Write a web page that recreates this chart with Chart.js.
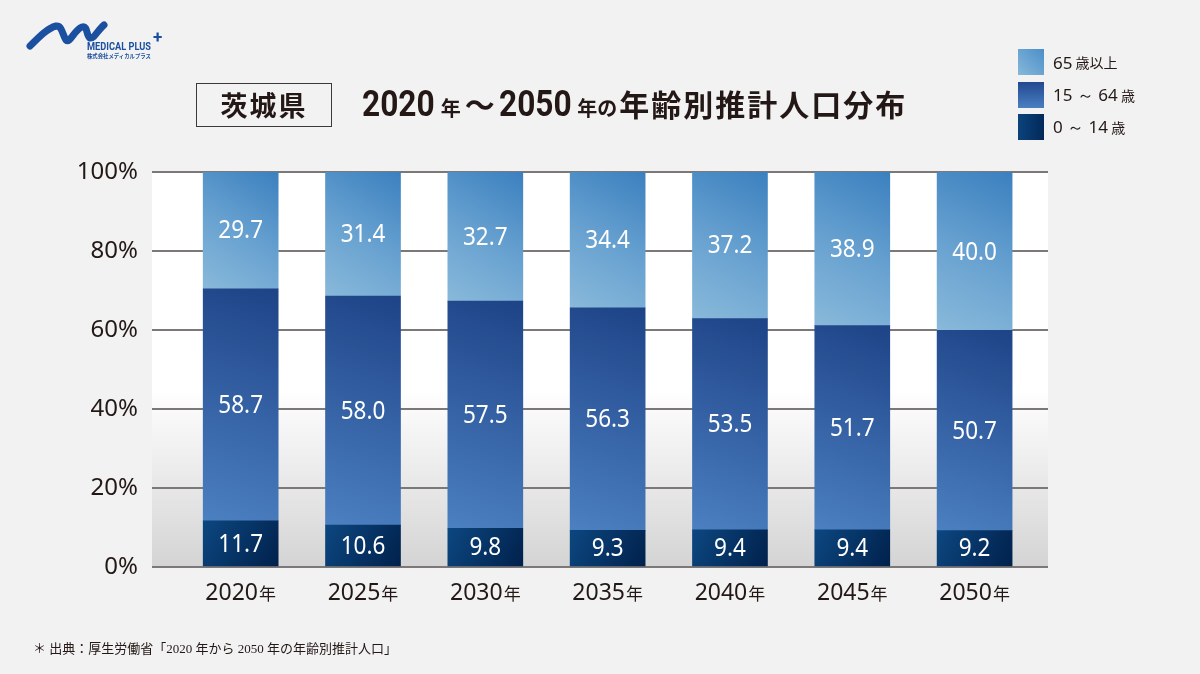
<!DOCTYPE html>
<html lang="ja">
<head>
<meta charset="utf-8">
<script src="https://cdn.jsdelivr.net/npm/chart.js@4.4.1/dist/chart.umd.min.js"></script>
<style>
  html, body { margin: 0; padding: 0; }
  body { width: 1200px; height: 674px; position: relative; overflow: hidden;
         background: #f2f2f2; font-family: "Noto Sans", "Noto Sans CJK JP", sans-serif; color: #231815; }
  #chart { position: absolute; left: 0; top: 0; }
  .abs { position: absolute; white-space: nowrap; }
  #tbox { left: 196px; top: 83px; width: 134px; height: 42px; border: 1.5px solid #3a3a3a;
          font-family: "Noto Sans CJK JP"; font-weight: 700; font-size: 27px; line-height: 42px;
          text-align: center; letter-spacing: 2px; color: #231815; }
  #title { left: 362px; top: 81px; display: flex; align-items: baseline; color: #231815; }
  #title .num { font-family: Roboto, "Noto Sans"; font-weight: 700; font-size: 36px; display: inline-block; transform: scaleX(0.88); transform-origin: left; margin-right: -8px; }
  #title .sm { font-family: "Noto Sans CJK JP"; font-weight: 700; font-size: 20px; }
  #title .big { font-family: "Noto Sans CJK JP"; font-weight: 700; font-size: 30px; letter-spacing: 2px; }
  .leg { left: 1018px; display: flex; align-items: center; height: 26px; }
  .leg .sw { width: 26px; height: 26px; margin-right: 9px; }
  .leg .n { font-family: "Noto Sans"; font-size: 17px; color: #231815; }
  .leg .k { font-family: "Noto Sans CJK JP"; font-size: 14px; color: #231815; }
  #foot { left: 33px; top: 638px; font-family: "Liberation Serif", "Noto Sans CJK JP", serif; font-size: 13px; color: #231815; }
</style>
</head>
<body>
<canvas id="chart" width="1200" height="674"></canvas>

<svg class="abs" style="left:0;top:0" width="200" height="70" viewBox="0 0 200 70">
  <path d="M30 46 C40 36 48 28 56 26 C62 25 62 34 66 40 C70 44 74 30 82 27 C88 25 86 36 90 38 C94 39 98 30 104 25"
        fill="none" stroke="#1b4f9f" stroke-width="7" stroke-linecap="round" stroke-linejoin="round"/>
  <text x="87" y="49.5" font-family="Roboto, 'Noto Sans'" font-weight="700" font-size="10.5" fill="#1b4f9f" textLength="64" lengthAdjust="spacingAndGlyphs">MEDICAL PLUS</text>
  <text x="153" y="43" font-family="Roboto, 'Noto Sans'" font-weight="700" font-size="17" fill="#1b4f9f">+</text>
  <text x="87" y="57.5" font-family="'Noto Sans CJK JP'" font-weight="700" font-size="6" fill="#1b4f9f" textLength="64" lengthAdjust="spacingAndGlyphs">株式会社メディカルプラス</text>
</svg>

<div id="tbox" class="abs">茨城県</div>
<div id="title" class="abs">
  <span class="num">2020</span><span class="sm" style="margin-left:4px">年</span>
  <span class="big" style="margin:0 2px 0 4px">～</span>
  <span class="num">2050</span><span class="sm" style="margin-left:4px">年の</span>
  <span class="big" style="margin-left:2px">年齢別推計人口分布</span>
</div>

<div class="abs leg" style="top:49px"><div class="sw" style="background:linear-gradient(45deg,#86b8da,#4c8fc8)"></div><span class="n">65</span><span class="k">&nbsp;歳以上</span></div>
<div class="abs leg" style="top:82px"><div class="sw" style="background:linear-gradient(0deg,#4a7fc1,#22498f)"></div><span class="n">15 ～ 64</span><span class="k">&nbsp;歳</span></div>
<div class="abs leg" style="top:114px"><div class="sw" style="background:linear-gradient(90deg,#0b437b,#03295a)"></div><span class="n">0 ～ 14</span><span class="k">&nbsp;歳</span></div>

<div id="foot" class="abs">＊ 出典：厚生労働省「2020 年から 2050 年の年齢別推計人口」</div>

<script>
// ---- data ----
const years = ['2020', '2025', '2030', '2035', '2040', '2045', '2050'];
const yearSuffix = '年';
const age0to14 = [11.7, 10.6, 9.8, 9.3, 9.4, 9.4, 9.2];
const age15to64 = [58.7, 58.0, 57.5, 56.3, 53.5, 51.7, 50.7];
const age65plus = [29.7, 31.4, 32.7, 34.4, 37.2, 38.9, 40.0];
const seriesNames = ['0 ～ 14 歳', '15 ～ 64 歳', '65 歳以上'];
const yTicks = [0, 20, 40, 60, 80, 100];

const series = [age0to14, age15to64, age65plus];
const BAR_W = 75;

function barGradient(ctx, kind) {
  const chart = ctx.chart;
  const fallback = ['#063a70', '#3563a8', '#6aa3d2'][kind];
  if (!chart.chartArea || !chart.scales.x || !chart.scales.y) return fallback;
  const i = ctx.dataIndex;
  const xs = chart.scales.x, ys = chart.scales.y;
  const cx = xs.getPixelForValue(i);
  let base = 0;
  for (let k = 0; k < kind; k++) base += series[k][i];
  const top = base + series[kind][i];
  const yTop = ys.getPixelForValue(top), yBot = ys.getPixelForValue(base);
  const xl = cx - BAR_W / 2, xr = cx + BAR_W / 2;
  const c = chart.ctx;
  let g;
  if (kind === 2) {
    g = c.createLinearGradient(xr, yTop, xl, yBot);
    g.addColorStop(0, '#3b80bf'); g.addColorStop(0.55, '#6aa3d1'); g.addColorStop(1, '#89b9da');
  } else if (kind === 1) {
    g = c.createLinearGradient(xr, yTop, xl, yBot);
    g.addColorStop(0, '#1e4387'); g.addColorStop(1, '#4b80c1');
  } else {
    g = c.createLinearGradient(xl, yTop, xr, yBot);
    g.addColorStop(0, '#0c4780'); g.addColorStop(1, '#01214c');
  }
  return g;
}

const plotBg = {
  id: 'plotBg',
  beforeDraw(chart) {
    const { ctx, chartArea: a } = chart;
    const g = ctx.createLinearGradient(0, a.top, 0, a.bottom);
    g.addColorStop(0, '#ffffff'); g.addColorStop(0.55, '#ffffff'); g.addColorStop(1, '#d4d4d4');
    ctx.save(); ctx.fillStyle = g; ctx.fillRect(a.left, a.top, a.right - a.left, a.bottom - a.top); ctx.restore();
  }
};

const valueLabels = {
  id: 'valueLabels',
  afterDatasetsDraw(chart) {
    const ctx = chart.ctx;
    ctx.save();
    ctx.fillStyle = '#ffffff';
    ctx.font = '25px "Noto Sans"';
    ctx.textAlign = 'center';
    ctx.textBaseline = 'middle';
    chart.data.datasets.forEach((ds, di) => {
      const meta = chart.getDatasetMeta(di);
      meta.data.forEach((el, i) => {
        const v = series[di][i];
        const cy = (el.y + el.base) / 2 + 1;
        ctx.save();
        ctx.translate(el.x, cy);
        ctx.scale(0.9, 1);
        ctx.fillText(v.toFixed(1), 0, 0);
        ctx.restore();
      });
    });
    ctx.restore();
  }
};

const xLabels = {
  id: 'xLabels',
  afterDraw(chart) {
    const ctx = chart.ctx;
    const xs = chart.scales.x;
    ctx.save();
    ctx.fillStyle = '#231815';
    ctx.textBaseline = 'alphabetic';
    ctx.textAlign = 'left';
    years.forEach((y, i) => {
      const cx = xs.getPixelForValue(i);
      ctx.font = '23px "Noto Sans"';
      const w1 = ctx.measureText(y).width;
      ctx.font = '17px "Noto Sans CJK JP"';
      const w2 = ctx.measureText(yearSuffix).width;
      const x0 = cx - (w1 + 1 + w2) / 2;
      ctx.font = '23px "Noto Sans"';
      ctx.fillText(y, x0, 600);
      ctx.font = '17px "Noto Sans CJK JP"';
      ctx.fillText(yearSuffix, x0 + w1 + 1, 600);
    });
    ctx.restore();
  }
};

const colorsKind = [0, 1, 2];
new Chart(document.getElementById('chart'), {
  type: 'bar',
  data: {
    datasets: series.map((arr, k) => ({
      label: seriesNames[k],
      data: arr.map((v, i) => ({ x: i, y: v })),
      backgroundColor: (ctx) => barGradient(ctx, colorsKind[k]),
      borderWidth: 0,
      barThickness: BAR_W
    }))
  },
  options: {
    responsive: false,
    animation: false,
    devicePixelRatio: 1,
    layout: { padding: { top: 172, bottom: 107, left: 0, right: 152 } },
    plugins: { legend: { display: false }, title: { display: false }, tooltip: { enabled: false } },
    scales: {
      x: {
        type: 'linear', stacked: true, display: false, offset: false, bounds: 'ticks',
        min: -0.725, max: 6.6,
        afterBuildTicks: (s) => { s.ticks = years.map((_, i) => ({ value: i })); }
      },
      y: {
        stacked: true, min: 0, max: 100,
        afterBuildTicks: (s) => { s.ticks = yTicks.map(v => ({ value: v })); },
        afterFit: (s) => { s.width = 152; },
        border: { display: false },
        grid: { color: '#7d7878', lineWidth: 2, drawTicks: false },
        ticks: {
          padding: 14, color: '#231815',
          font: { family: '"Noto Sans"', size: 24 },
          callback: (v) => v + '%'
        }
      }
    }
  },
  plugins: [plotBg, valueLabels, xLabels]
});
</script>
</body>
</html>
